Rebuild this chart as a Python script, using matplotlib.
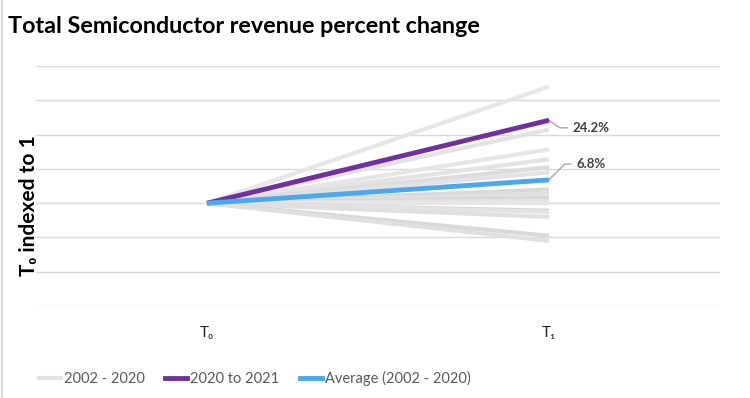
import matplotlib.pyplot as plt
from matplotlib.lines import Line2D

# Данные: начало периода индексировано к 1
periods = ['T\u2080', 'T\u2081']
grey_ends = [1.34, 1.215, 1.157, 1.128, 1.105, 1.09, 1.04, 1.028, 1.015,
             1.008, 1.0, 0.978, 0.975, 0.96, 0.905, 0.89]
grey_shades = ['#e6e6e6', '#e3e3e3', '#e6e6e6', '#e3e3e3', '#dcdcdc', '#e3e3e3',
               '#d9d9d9', '#e0e0e0', '#d6d6d6', '#e3e3e3', '#e6e6e6', '#d3d3d3',
               '#e3e3e3', '#e0e0e0', '#d9d9d9', '#e0e0e0']
growth_2021 = 0.242
growth_avg = 0.068

FONT = ['Lato', 'DejaVu Sans']

fig = plt.figure(figsize=(7.5, 3.98), dpi=100)
ax = fig.add_axes([0.048, 0.231, 0.912, 0.603])

x = [0, 1]
for end, c in zip(grey_ends, grey_shades):
    ax.plot(x, [1, end], color=c, linewidth=3, solid_capstyle='butt', zorder=2)

ax.plot(x, [1, 1 + growth_2021], color='#7030a0', linewidth=3.5,
        solid_capstyle='butt', zorder=4)
ax.plot(x, [1, 1 + growth_avg], color='#4aa8ee', linewidth=3.5,
        solid_capstyle='butt', zorder=5)

# Подписи значений с выносками
ax.annotate(f'{growth_2021 * 100:.1f}%', xy=(1, 1 + growth_2021),
            xytext=(1.07, 1 + growth_2021 - 0.022), textcoords='data',
            fontsize=9.5, fontweight='bold', color='#404040', va='center',
            family=FONT,
            arrowprops=dict(arrowstyle='-', color='#a6a6a6', lw=1,
                            connectionstyle='angle,angleA=0,angleB=-35,rad=0',
                            shrinkA=2, shrinkB=0))
ax.annotate(f'{growth_avg * 100:.1f}%', xy=(1, 1 + growth_avg),
            xytext=(1.08, 1 + growth_avg + 0.046), textcoords='data',
            fontsize=9.5, fontweight='bold', color='#404040', va='center',
            family=FONT,
            arrowprops=dict(arrowstyle='-', color='#a6a6a6', lw=1,
                            connectionstyle='angle,angleA=0,angleB=45,rad=0',
                            shrinkA=2, shrinkB=0))

ax.set_xlim(-0.5, 1.5)
ax.set_ylim(0.7, 1.4)
ax.set_yticks([0.7, 0.8, 0.9, 1.0, 1.1, 1.2, 1.3, 1.4])
ax.set_yticklabels([])
ax.set_xticks(x)
ax.set_xticklabels(periods, fontsize=11, color='#262626', family=FONT)
ax.tick_params(axis='both', length=0)
ax.tick_params(axis='x', pad=14)
ax.grid(axis='y', color='#d9d9d9', linewidth=1)
ax.set_axisbelow(True)
for s in ax.spines.values():
    s.set_visible(False)

ax.set_ylabel('T\u2080 indexed to 1', fontsize=15, fontweight='bold',
              family=FONT, labelpad=2)
ax.yaxis.set_label_coords(0.004, 0.42)

fig.text(0.011, 0.933, 'Total Semiconductor revenue percent change',
         fontsize=16.8, fontweight='bold', family=FONT, va='center')

handles = [Line2D([], [], color='#e3e3e3', linewidth=3),
           Line2D([], [], color='#7030a0', linewidth=3.5),
           Line2D([], [], color='#4aa8ee', linewidth=3.5)]
fig.legend(handles, ['2002 - 2020', '2020 to 2021', 'Average (2002 - 2020)'],
           loc='center left', bbox_to_anchor=(0.035, 0.05), ncol=3, frameon=False,
           handlelength=1.5, handletextpad=0.2, columnspacing=1.4,
           prop={'family': FONT, 'size': 10.5}, labelcolor='#595959')

fig.add_artist(Line2D([0.002, 0.002], [0, 1], color='#d9d9d9', linewidth=1.5,
                      transform=fig.transFigure))

fig.savefig('out.png', dpi=100)
